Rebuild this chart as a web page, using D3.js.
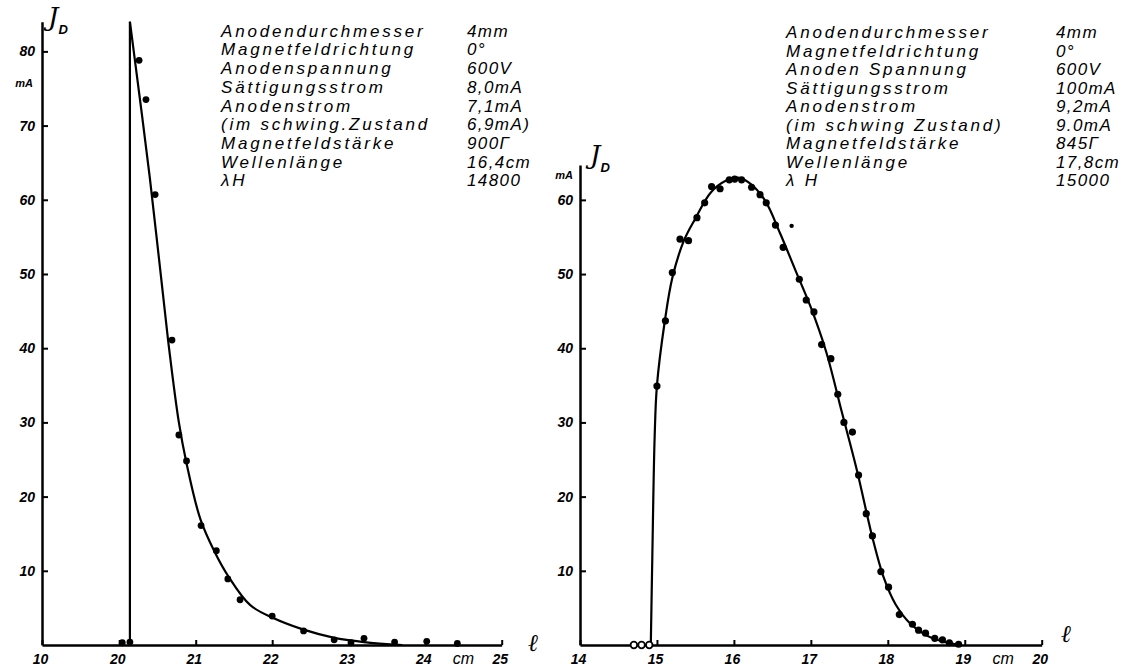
<!DOCTYPE html>
<html>
<head>
<meta charset="utf-8">
<script src="https://cdn.jsdelivr.net/npm/d3@7"></script>
<style>
  body { margin: 0; background: #fff; }
  .tick text { font-family: "Liberation Sans", sans-serif; font-style: italic; font-weight: bold; font-size: 14px; }
  .info { font-family: "Liberation Sans", sans-serif; font-style: italic; font-size: 17px; letter-spacing: 2.8px; }
  .val { font-family: "Liberation Sans", sans-serif; font-style: italic; font-size: 17px; letter-spacing: 1.4px; }
</style>
</head>
<body>
<div id="chart"></div>
<script>
// Left panel: measured points (l in cm, I_D in mA)
var leftPointsL = [20.04, 20.14, 20.26, 20.35, 20.47, 20.69, 20.78, 20.88, 21.07, 21.27, 21.42, 21.58, 22.0, 22.41, 22.81, 23.03, 23.2, 23.6, 24.02, 24.42];
var leftPointsI = [0.3, 0.4, 78.8, 73.5, 60.7, 41.1, 28.3, 24.8, 16.1, 12.7, 8.9, 6.1, 3.9, 1.9, 0.7, 0.3, 0.9, 0.4, 0.5, 0.2];
// Left panel: drawn curve
var leftRise = [[20.14, 0], [20.14, 84]];
var leftCurveL = [20.14, 20.40, 20.64, 20.78, 20.88, 21.06, 21.25, 21.43, 21.71, 22.0, 22.4, 22.8, 23.2, 23.7];
var leftCurveI = [84, 63, 41, 30, 24.5, 17, 12.5, 9.2, 5.4, 3.7, 2.1, 1.0, 0.4, 0];

// Right panel: measured points
var rightPointsL = [15.0, 15.11, 15.2, 15.3, 15.41, 15.52, 15.62, 15.71, 15.82, 15.94, 16.01, 16.1, 16.23, 16.34, 16.42, 16.54, 16.64, 16.85, 16.94, 17.04, 17.14, 17.26, 17.35, 17.43, 17.54, 17.62, 17.72, 17.8, 17.91, 18.01, 18.15, 18.32, 18.4, 18.49, 18.61, 18.71, 18.8, 18.92];
var rightPointsI = [34.9, 43.7, 50.2, 54.7, 54.5, 57.6, 59.6, 61.8, 61.5, 62.7, 62.8, 62.7, 61.7, 60.7, 59.6, 56.6, 53.6, 49.3, 46.5, 44.9, 40.5, 38.6, 33.8, 30.0, 28.7, 22.9, 17.7, 14.7, 9.9, 7.8, 4.1, 2.8, 2.0, 1.6, 0.9, 0.7, 0.3, 0.1];
var rightOutlier = [[16.75, 56.5]];
var rightOpenL = [14.70, 14.80, 14.90];
// Right panel: drawn curve
var rightCurveL = [14.92, 14.94, 14.97, 15.0, 15.1, 15.2, 15.35, 15.5, 15.7, 15.9, 16.05, 16.2, 16.4, 16.6, 16.8, 17.0, 17.2, 17.4, 17.6, 17.8, 17.95, 18.1, 18.3, 18.5, 18.7, 18.95];
var rightCurveI = [0, 12, 28, 35, 43.5, 49.5, 54.5, 57.5, 61, 62.6, 63, 62.3, 60, 55.5, 50.5, 45.5, 39.5, 31.5, 23.5, 14.5, 9, 5.5, 2.8, 1.3, 0.5, 0];

// Axis ticks
var leftXTicks = [10, 20, 21, 22, 23, 24, 25];
var leftYTicks = [10, 20, 30, 40, 50, 60, 70, 80];
var rightXTicks = [14, 15, 16, 17, 18, 19, 20];
var rightYTicks = [10, 20, 30, 40, 50, 60];

// Parameter tables
var leftLabels = ["Anodendurchmesser", "Magnetfeldrichtung", "Anodenspannung", "Sättigungsstrom", "Anodenstrom", "(im schwing.Zustand", "Magnetfeldstärke", "Wellenlänge", "λH"];
var leftValues = ["4mm", "0°", "600V", "8,0mA", "7,1mA", "6,9mA)", "900Γ", "16,4cm", "14800"];
var rightLabels = ["Anodendurchmesser", "Magnetfeldrichtung", "Anoden Spannung", "Sättigungsstrom", "Anodenstrom", "(im schwing Zustand)", "Magnetfeldstärke", "Wellenlänge", "λ H"];
var rightValues = ["4mm", "0°", "600V", "100mA", "9,2mA", "9.0mA", "845Γ", "17,8cm", "15000"];

var svg = d3.select("#chart")
  .append("svg")
    .attr("width", 1127)
    .attr("height", 669);

// scales (left x axis is broken between 10 and 20)
var xL = d3.scaleLinear().domain([10, 20, 25]).range([42, 119.2, 501.7]);
var yL = d3.scaleLinear().domain([0, 84]).range([645, 21.7]);
var xR = d3.scaleLinear().domain([14, 20]).range([580, 1041.7]);
var yR = d3.scaleLinear().domain([0, 64.7]).range([645, 165]);

function drawAxes(x, y, xTicks, yTicks, yPos) {
  var gx = svg.append("g")
    .attr("transform", "translate(0,645)")
    .call(d3.axisBottom(x).tickValues(xTicks).tickSize(-5).tickSizeOuter(0).tickPadding(9).tickFormat(d3.format("d")));
  gx.selectAll("text").attr("dx", "-2");
  gx.select(".domain").attr("stroke-width", 2.5);
  gx.selectAll(".tick line").attr("stroke-width", 2);

  var gy = svg.append("g")
    .attr("transform", "translate(" + yPos + ",0)")
    .call(d3.axisLeft(y).tickValues(yTicks).tickSize(-6).tickSizeOuter(0).tickPadding(7));
  gy.select(".domain").attr("stroke-width", 2.5);
  gy.selectAll(".tick line").attr("stroke-width", 2);
}

drawAxes(xL, yL, leftXTicks, leftYTicks, 42);
drawAxes(xR, yR, rightXTicks, rightYTicks, 580);

// "cm" and l labels
svg.append("text").attr("x", xL(24.5)).attr("y", 664).attr("text-anchor", "middle")
  .style("font", "italic 16px 'Liberation Sans'").text("cm");
svg.append("text").attr("x", xR(19.5)).attr("y", 664).attr("text-anchor", "middle")
  .style("font", "italic 16px 'Liberation Sans'").text("cm");
svg.append("text").attr("x", 528).attr("y", 651)
  .style("font", "italic 24px 'DejaVu Serif'").text("ℓ");
svg.append("text").attr("x", 1061).attr("y", 642)
  .style("font", "italic 24px 'DejaVu Serif'").text("ℓ");

// J_D and mA
function yTitle(xj, yj, xm, ym) {
  var t = svg.append("text").attr("x", xj).attr("y", yj)
    .style("font", "italic 26px 'DejaVu Serif'");
  t.append("tspan").text("J");
  t.append("tspan").attr("dy", 8).style("font", "italic bold 13px 'Liberation Sans'").text("D");
  svg.append("text").attr("x", xm).attr("y", ym).attr("text-anchor", "end")
    .style("font", "italic bold 11px 'Liberation Sans'").text("mA");
}
yTitle(48, 26, 33, 87);
yTitle(590, 164, 573, 179);

// curves
var lineL = d3.line().x(function(d) { return xL(d[0]); }).y(function(d) { return yL(d[1]); });
var curveL = d3.line().curve(d3.curveCatmullRom.alpha(0.5))
  .x(function(d) { return xL(d[0]); }).y(function(d) { return yL(d[1]); });
var curveR = d3.line().curve(d3.curveCatmullRom.alpha(0.5))
  .x(function(d) { return xR(d[0]); }).y(function(d) { return yR(d[1]); });

svg.append("path").datum(leftRise).attr("d", lineL)
  .attr("fill", "none").attr("stroke", "#000").attr("stroke-width", 2.2);
svg.append("path").datum(d3.zip(leftCurveL, leftCurveI)).attr("d", curveL)
  .attr("fill", "none").attr("stroke", "#000").attr("stroke-width", 2.2);
svg.append("path").datum(d3.zip(rightCurveL, rightCurveI)).attr("d", curveR)
  .attr("fill", "none").attr("stroke", "#000").attr("stroke-width", 2.2);

// points
svg.selectAll("circle.pl")
  .data(d3.zip(leftPointsL, leftPointsI))
  .enter()
  .append("circle")
  .attr("cx", function(d) { return xL(d[0]); })
  .attr("cy", function(d) { return yL(d[1]); })
  .attr("r", 3.4)
  .attr("fill", "#000");

svg.selectAll("circle.pr")
  .data(d3.zip(rightPointsL, rightPointsI))
  .enter()
  .append("circle")
  .attr("cx", function(d) { return xR(d[0]); })
  .attr("cy", function(d) { return yR(d[1]); })
  .attr("r", 3.6)
  .attr("fill", "#000");

svg.selectAll("circle.po")
  .data(rightOutlier)
  .enter()
  .append("circle")
  .attr("cx", function(d) { return xR(d[0]); })
  .attr("cy", function(d) { return yR(d[1]); })
  .attr("r", 2.2)
  .attr("fill", "#000");

svg.selectAll("circle.open")
  .data(rightOpenL)
  .enter()
  .append("circle")
  .attr("cx", function(d) { return xR(d); })
  .attr("cy", yR(0))
  .attr("r", 3.3)
  .attr("fill", "#fff")
  .attr("stroke", "#000")
  .attr("stroke-width", 1.8);

// parameter tables
function table(labels, values, xLab, xVal, y0, step) {
  svg.selectAll(null).data(labels).enter().append("text")
    .attr("class", "info")
    .attr("x", xLab)
    .attr("y", function(d, i) { return y0 + i * step; })
    .text(function(d) { return d; });
  svg.selectAll(null).data(values).enter().append("text")
    .attr("class", "val")
    .attr("x", xVal)
    .attr("y", function(d, i) { return y0 + i * step; })
    .text(function(d) { return d; });
}
table(leftLabels, leftValues, 221, 467, 36.7, 18.7);
table(rightLabels, rightValues, 786, 1056, 38, 18.5);
</script>
</body>
</html>
